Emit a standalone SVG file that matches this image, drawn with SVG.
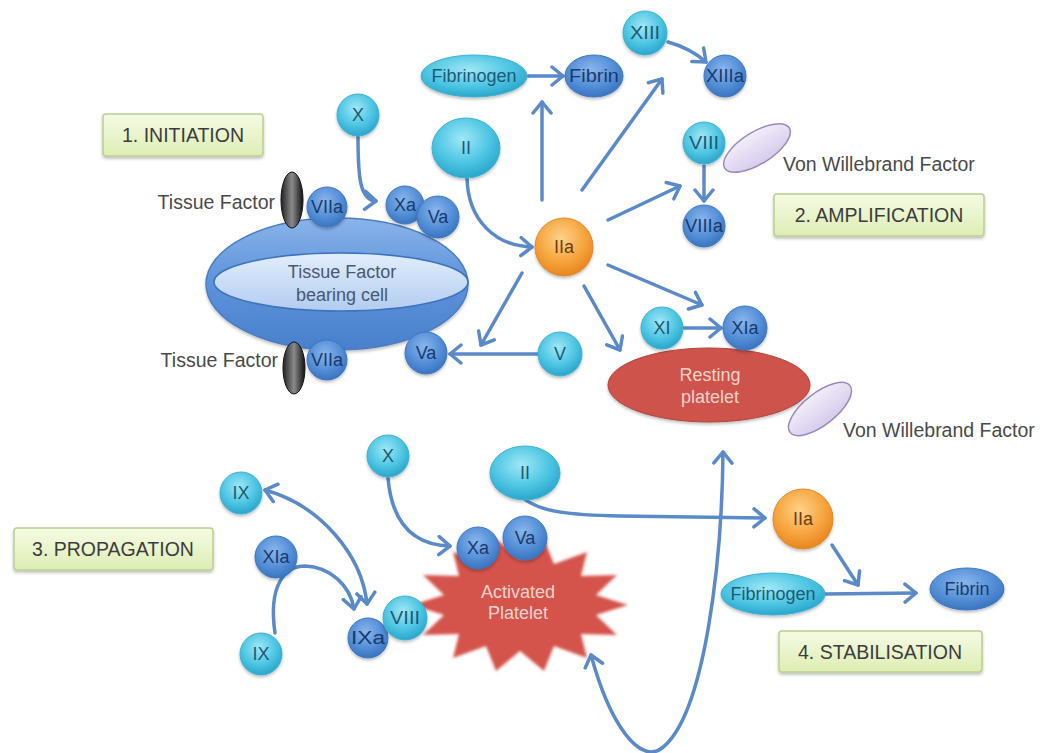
<svg xmlns="http://www.w3.org/2000/svg" width="1046" height="753" viewBox="0 0 1046 753">
<defs>
  <radialGradient id="gCyan" cx="45%" cy="35%" r="65%">
    <stop offset="0" stop-color="#9fe8f6"/>
    <stop offset="0.6" stop-color="#4fc6e4"/>
    <stop offset="1" stop-color="#2aa6cc"/>
  </radialGradient>
  <radialGradient id="gBlue" cx="45%" cy="35%" r="65%">
    <stop offset="0" stop-color="#8ab6ec"/>
    <stop offset="0.6" stop-color="#5590d8"/>
    <stop offset="1" stop-color="#3a74c0"/>
  </radialGradient>
  <radialGradient id="gOrange" cx="45%" cy="35%" r="65%">
    <stop offset="0" stop-color="#fdd28a"/>
    <stop offset="0.6" stop-color="#f7a640"/>
    <stop offset="1" stop-color="#e8861e"/>
  </radialGradient>
  <linearGradient id="gCell" x1="0" y1="0" x2="0" y2="1">
    <stop offset="0" stop-color="#8ab4ea"/>
    <stop offset="0.5" stop-color="#5b92da"/>
    <stop offset="1" stop-color="#4a80cc"/>
  </linearGradient>
  <linearGradient id="gInner" x1="0" y1="0" x2="0" y2="1">
    <stop offset="0" stop-color="#e2eefc"/>
    <stop offset="1" stop-color="#b2ccf0"/>
  </linearGradient>
  <linearGradient id="gBox" x1="0" y1="0" x2="0" y2="1">
    <stop offset="0" stop-color="#f6fbe4"/>
    <stop offset="1" stop-color="#ddedb4"/>
  </linearGradient>
  <linearGradient id="gTF" x1="0" y1="0" x2="1" y2="0">
    <stop offset="0" stop-color="#222"/>
    <stop offset="0.5" stop-color="#8a8a8a"/>
    <stop offset="1" stop-color="#111"/>
  </linearGradient>
  <linearGradient id="gVwf" x1="0" y1="0" x2="0" y2="1">
    <stop offset="0" stop-color="#f2eefa"/>
    <stop offset="1" stop-color="#d6cbec"/>
  </linearGradient>
  <filter id="shadow" x="-20%" y="-20%" width="140%" height="150%">
    <feDropShadow dx="0" dy="2" stdDeviation="1.5" flood-color="#000" flood-opacity="0.25"/>
  </filter>
  <filter id="soft" x="-10%" y="-10%" width="120%" height="120%">
    <feGaussianBlur stdDeviation="1.5"/>
  </filter>
  <marker id="arr" viewBox="0 0 16 22" refX="13" refY="11" markerWidth="16" markerHeight="22" markerUnits="userSpaceOnUse" orient="auto-start-reverse">
    <path d="M2,2 L13,11 L2,20" fill="none" stroke="#5a8ac8" stroke-width="3.5" stroke-linecap="round" stroke-linejoin="round"/>
  </marker>
</defs>
<style>
  .lbl { font-family: "Liberation Sans", Arial, sans-serif; font-size: 19.5px; fill: #4a4a4a; }
  .box rect { fill: url(#gBox); stroke: #b9d08e; stroke-width: 1.5; filter: url(#shadow); }
  .box text { font-family: "Liberation Sans", Arial, sans-serif; font-size: 19.5px; fill: #3c3c3c; text-anchor: middle; }
  .cy circle, .cy ellipse { fill: url(#gCyan); stroke: #3fb0d2; stroke-width: 1; filter: url(#shadow); }
  .bl circle, .bl ellipse { fill: url(#gBlue); stroke: #3f76c0; stroke-width: 1; filter: url(#shadow); }
  .or circle { fill: url(#gOrange); stroke: #e08a2a; stroke-width: 1; filter: url(#shadow); }
  .nt { font-family: "Liberation Sans", Arial, sans-serif; font-size: 18px; text-anchor: middle; }
  .cy text { fill: #1d5a72; }
  .bl text { fill: #1a3a6c; }
  .or text { fill: #6a4010; }
  .vwf { fill: url(#gVwf); stroke: #9a88bc; stroke-width: 1.5; }
  .tf { fill: url(#gTF); stroke: #111; stroke-width: 1; }
  .conn path { fill: none; stroke: #5a8ac8; stroke-width: 3.5; stroke-linecap: round; marker-end: url(#arr); }
  .wt { font-family: "Liberation Sans", Arial, sans-serif; font-size: 18px; fill: #f6d2cc; text-anchor: middle; }
</style>
<rect width="1046" height="753" fill="#ffffff"/>

<!-- Stage boxes -->
<g id="box-initiation" class="box"><rect x="103" y="114" width="160" height="42" rx="3"/><text x="183" y="142">1. INITIATION</text></g>
<g id="box-amplification" class="box"><rect x="774" y="194" width="210" height="42" rx="3"/><text x="879" y="222">2. AMPLIFICATION</text></g>
<g id="box-propagation" class="box"><rect x="14" y="528" width="199" height="42" rx="3"/><text x="113" y="556">3. PROPAGATION</text></g>
<g id="box-stabilisation" class="box"><rect x="779" y="631" width="203" height="41" rx="3"/><text x="880" y="659">4. STABILISATION</text></g>

<!-- Tissue factor bearing cell -->
<g id="tf-cell">
  <ellipse cx="337" cy="284" rx="131" ry="66" fill="url(#gCell)" stroke="#4a7cc4" stroke-width="1.5" filter="url(#shadow)"/>
  <ellipse cx="341" cy="282" rx="127" ry="29" fill="url(#gInner)" stroke="#3f72bc" stroke-width="1.5"/>
  <text class="nt" x="342" y="278" fill="#4a5870" font-size="19.5">Tissue Factor</text>
  <text class="nt" x="342" y="301" fill="#4a5870" font-size="19.5">bearing cell</text>
</g>

<!-- Resting platelet -->
<g id="resting-platelet">
  <ellipse cx="709" cy="385" rx="101" ry="37" fill="#cd524c" stroke="#b0443f" stroke-width="1" filter="url(#shadow)"/>
  <text class="wt" x="710" y="381">Resting</text>
  <text class="wt" x="710" y="403">platelet</text>
</g>

<!-- Activated platelet -->
<g id="activated-platelet">
  <polygon points="628,605 596,615 617,635 581,634 587,658 554,646 544,671 520,651 496,671 486,646 453,658 459,634 423,635 444,615 412,605 444,595 423,575 459,576 453,552 486,564 496,539 520,559 544,539 554,564 587,552 581,576 617,575 596,595" fill="#d4534c" filter="url(#soft)"/>
  <text class="wt" x="518" y="598">Activated</text>
  <text class="wt" x="518" y="619">Platelet</text>
</g>

<!-- Connectors -->
<g id="connectors" class="conn">
  <path d="M358,137 C358,178 360,200 376,201"/>
  <path d="M467,178 C468,220 495,246 532,247"/>
  <path d="M528,76 L563,76"/>
  <path d="M542,200 L542,102"/>
  <path d="M582,190 L662,79"/>
  <path d="M668,42 Q690,48 706,62"/>
  <path d="M608,220 L680,186"/>
  <path d="M704,166 L704,201"/>
  <path d="M608,265 L702,305"/>
  <path d="M584,286 L620,350"/>
  <path d="M522,273 L481,345"/>
  <path d="M538,354 L450,354"/>
  <path d="M684,328 L721,328"/>
  <path d="M265,490 C320,505 362,555 367,604" marker-start="url(#arr)"/>
  <path d="M275,633 C268,585 285,566 305,566 C330,567 350,585 354,609"/>
  <path d="M388,478 C392,525 415,545 450,546"/>
  <path d="M523,498 C540,512 570,515 620,516 L765,518"/>
  <path d="M832,545 L858,585"/>
  <path d="M825,594 L916,593"/>
  <path d="M591,655 C610,725 640,765 662,748 C705,715 722,560 723,452" marker-start="url(#arr)"/>
</g>

<!-- Labels -->
<g id="lbl-tf1"><text class="lbl" x="275" y="209" text-anchor="end">Tissue Factor</text></g>
<g id="lbl-tf2"><text class="lbl" x="278" y="367" text-anchor="end">Tissue Factor</text></g>
<g id="lbl-vwf1"><text class="lbl" x="783" y="171">Von Willebrand Factor</text></g>
<g id="lbl-vwf2"><text class="lbl" x="843" y="437">Von Willebrand Factor</text></g>

<!-- Tissue factor ovals -->
<g id="tf-oval1"><ellipse class="tf" cx="292" cy="200" rx="11" ry="28"/></g>
<g id="tf-oval2"><ellipse class="tf" cx="294" cy="368" rx="11" ry="26"/></g>

<!-- vWF -->
<g id="vwf1"><ellipse class="vwf" cx="757" cy="148" rx="38" ry="16" transform="rotate(-32 757 148)"/></g>
<g id="vwf2"><ellipse class="vwf" cx="820" cy="409" rx="38" ry="16" transform="rotate(-38 820 409)"/></g>

<!-- Initiation nodes -->
<g id="n-VIIa-1" class="bl"><circle cx="327" cy="207" r="20"/><text class="nt" x="327" y="213">VIIa</text></g>
<g id="n-VIIa-2" class="bl"><circle cx="327" cy="360" r="20"/><text class="nt" x="327" y="366">VIIa</text></g>
<g id="n-X-1" class="cy"><circle cx="358" cy="115" r="21"/><text class="nt" x="358" y="121">X</text></g>
<g id="n-Xa-1" class="bl"><circle cx="405" cy="205" r="19"/><text class="nt" x="405" y="211">Xa</text></g>
<g id="n-Va-1" class="bl"><circle cx="438" cy="217" r="21"/><text class="nt" x="438" y="223">Va</text></g>

<!-- Amplification nodes -->
<g id="n-II-1" class="cy"><ellipse cx="466" cy="148" rx="34" ry="30"/><text class="nt" x="466" y="154">II</text></g>
<g id="n-IIa-1" class="or"><circle cx="564" cy="247" r="29"/><text class="nt" x="564" y="253">IIa</text></g>
<g id="n-fibrinogen-1" class="cy"><ellipse cx="474" cy="76" rx="53" ry="21"/><text class="nt" x="474" y="82">Fibrinogen</text></g>
<g id="n-fibrin-1" class="bl"><ellipse cx="594" cy="76" rx="29" ry="21"/><text class="nt" x="594" y="82" textLength="50" lengthAdjust="spacingAndGlyphs">Fibrin</text></g>
<g id="n-XIII" class="cy"><circle cx="645" cy="33" r="22"/><text class="nt" x="645" y="39" textLength="30" lengthAdjust="spacingAndGlyphs">XIII</text></g>
<g id="n-XIIIa" class="bl"><circle cx="725" cy="76" r="21"/><text class="nt" x="725" y="82" textLength="38" lengthAdjust="spacingAndGlyphs">XIIIa</text></g>
<g id="n-VIII-1" class="cy"><circle cx="704" cy="143" r="21"/><text class="nt" x="704" y="149" textLength="30" lengthAdjust="spacingAndGlyphs">VIII</text></g>
<g id="n-VIIIa" class="bl"><circle cx="704" cy="226" r="21"/><text class="nt" x="704" y="232" textLength="38" lengthAdjust="spacingAndGlyphs">VIIIa</text></g>
<g id="n-XI" class="cy"><circle cx="662" cy="328" r="21"/><text class="nt" x="662" y="334">XI</text></g>
<g id="n-XIa-1" class="bl"><circle cx="745" cy="328" r="22"/><text class="nt" x="745" y="334">XIa</text></g>
<g id="n-V" class="cy"><circle cx="560" cy="354" r="22"/><text class="nt" x="560" y="360">V</text></g>
<g id="n-Va-2" class="bl"><circle cx="426" cy="353" r="21"/><text class="nt" x="426" y="359">Va</text></g>

<!-- Propagation nodes -->
<g id="n-IX-1" class="cy"><circle cx="241" cy="493" r="21"/><text class="nt" x="241" y="499">IX</text></g>
<g id="n-XIa-2" class="bl"><circle cx="276" cy="557" r="21"/><text class="nt" x="276" y="563">XIa</text></g>
<g id="n-IX-2" class="cy"><circle cx="261" cy="654" r="21"/><text class="nt" x="261" y="660">IX</text></g>
<g id="n-IXa" class="bl"><circle cx="368" cy="638" r="20"/><text class="nt" x="368" y="644" textLength="34" lengthAdjust="spacingAndGlyphs">IXa</text></g>
<g id="n-VIII-2" class="cy"><circle cx="405" cy="618" r="22"/><text class="nt" x="405" y="624" textLength="30" lengthAdjust="spacingAndGlyphs">VIII</text></g>
<g id="n-X-2" class="cy"><circle cx="388" cy="456" r="21"/><text class="nt" x="388" y="462">X</text></g>
<g id="n-Xa-2" class="bl"><circle cx="478" cy="548" r="21"/><text class="nt" x="478" y="554">Xa</text></g>
<g id="n-Va-3" class="bl"><circle cx="525" cy="538" r="22"/><text class="nt" x="525" y="544">Va</text></g>

<!-- Stabilisation nodes -->
<g id="n-II-2" class="cy"><ellipse cx="525" cy="473" rx="35" ry="27"/><text class="nt" x="525" y="479">II</text></g>
<g id="n-IIa-2" class="or"><circle cx="803" cy="519" r="30"/><text class="nt" x="803" y="525">IIa</text></g>
<g id="n-fibrinogen-2" class="cy"><ellipse cx="773" cy="594" rx="52" ry="21"/><text class="nt" x="773" y="600">Fibrinogen</text></g>
<g id="n-fibrin-2" class="bl"><ellipse cx="967" cy="589" rx="37" ry="21"/><text class="nt" x="967" y="595">Fibrin</text></g>
</svg>
